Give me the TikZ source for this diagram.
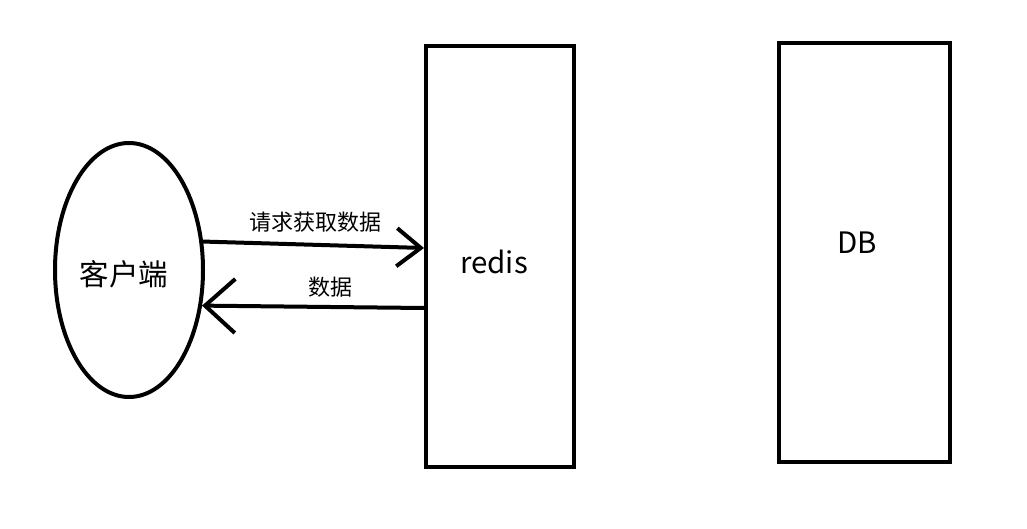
\documentclass[tikz,border=0pt]{standalone}
\usepackage{fontspec}
\setmainfont{Noto Sans CJK SC}
\usetikzlibrary{shapes.geometric,arrows.meta}
\begin{document}
\begin{tikzpicture}[x=1pt,y=-1pt,
  shapebox/.style={draw,line width=4pt,rectangle,inner sep=0pt},
  conn/.style={line width=4pt},
  bigtext/.style={font=\fontsize{29.5}{29.5}\selectfont,inner sep=0pt},
  smalltext/.style={font=\fontsize{22}{22}\selectfont,inner sep=0pt}]
\useasboundingbox (0,0) rectangle (1027,529);
\fill[white] (0,0) rectangle (1027,529);
\node[draw,ellipse,line width=4pt,minimum width=148pt,minimum height=254pt,inner sep=0pt] (client) at (129,270) {};
\node[bigtext] (clienttext) at (124,274) {客户端};
\node[shapebox,minimum width=148pt,minimum height=421pt] (redis) at (500,256.5) {};
\node[bigtext] (redistext) at (494,262) {redis};
\node[shapebox,minimum width=171pt,minimum height=419pt] (db) at (864.5,252.5) {};
\node[bigtext] (dbtext) at (857,243) {DB};
\draw[conn,-{Straight Barb[length=24pt,width=38pt,line width=4pt]}] (client.21) -- ([yshift=8.5pt]redis.west);
\node[smalltext] (reqlabel) at (315,222) {请求获取数据};
\draw[conn,-{Straight Barb[length=30pt,width=54pt,line width=4pt]}] ([yshift=-51.5pt]redis.west) -- (client.-26);
\node[smalltext] (datalabel) at (330,287) {数据};
\end{tikzpicture}
\end{document}
